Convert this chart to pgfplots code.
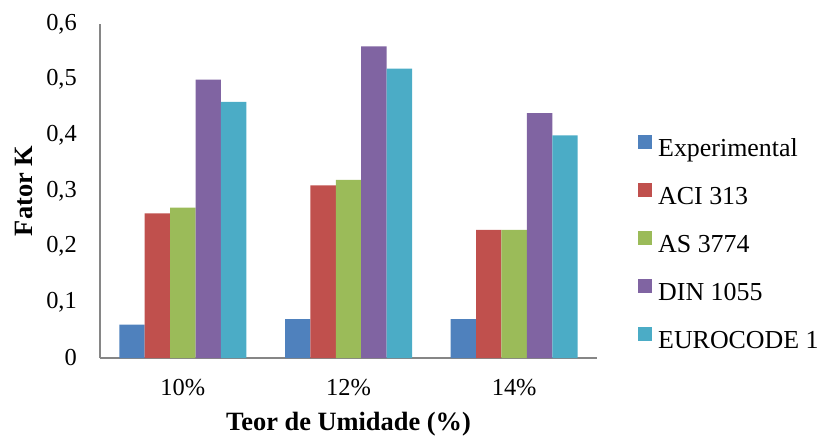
\documentclass[border=0pt]{standalone}
\usepackage{pgfplots}
\pgfplotsset{compat=1.18}
\usepackage{fontspec}
\setmainfont{Liberation Serif}
\definecolor{cBlue}{HTML}{4F81BD}
\definecolor{cRed}{HTML}{C0504D}
\definecolor{cGreen}{HTML}{9BBB59}
\definecolor{cPurple}{HTML}{8064A2}
\definecolor{cAqua}{HTML}{4BACC6}
\definecolor{axgray}{HTML}{868686}
\begin{document}
\begin{tikzpicture}
\begin{axis}[
  name=ax,
  scale only axis,
  width=497bp, height=334bp,
  ybar=0pt, bar width=25.4bp,
  xmin=-0.5, xmax=2.5,
  ymin=0, ymax=0.6,
  xtick={0,1,2},
  xticklabels={10\%,12\%,14\%},
  ytick={0,0.1,0.2,0.3,0.4,0.5,0.6},
  /pgf/number format/use comma,
  /pgf/number format/fixed,
  /pgf/number format/precision=1,
  /pgf/number format/assume math mode=true,
  major tick length=0pt,
  axis x line*=bottom, axis y line*=left,
  axis line style={axgray, line width=1.3bp},
  ticklabel style={font=\fontsize{24.5}{29}\selectfont, inner sep=0pt},
  yticklabel style={xshift=-23bp},
  xticklabel style={yshift=-21bp},
  xlabel={\textbf{Teor de Umidade (\%)}},
  ylabel={\textbf{Fator K}},
  label style={font=\fontsize{26.5}{31}\selectfont},
  xlabel style={at={(axis description cs:0.5,-0.2185)}, anchor=base},
  ylabel style={at={(axis description cs:-0.1368,0.5)}, anchor=base},
  legend cell align=left,
  legend style={at={(axis description cs:1.0825,0.6677)}, anchor=north west, draw=none, fill=none, inner sep=0pt,
    row sep=21bp, column sep=6bp,
    font=\fontsize{26}{31}\selectfont,
    nodes={inner sep=0pt, text height=18bp, text depth=6bp}},
  legend image code/.code={\fill[#1] (0bp,1bp) rectangle (14bp,15bp);},
]
\addplot[fill=cBlue, draw=none] coordinates {(0,0.06) (1,0.07) (2,0.07)};
\addplot[fill=cRed, draw=none] coordinates {(0,0.26) (1,0.31) (2,0.23)};
\addplot[fill=cGreen, draw=none] coordinates {(0,0.27) (1,0.32) (2,0.23)};
\addplot[fill=cPurple, draw=none] coordinates {(0,0.50) (1,0.56) (2,0.44)};
\addplot[fill=cAqua, draw=none] coordinates {(0,0.46) (1,0.52) (2,0.40)};
\legend{Experimental, ACI 313, AS 3774, DIN 1055, EUROCODE 1}
\end{axis}
\pgfresetboundingbox
\path[use as bounding box] (ax.south west) ++(-100bp,-81bp) rectangle ++(822bp,439bp);
\end{tikzpicture}
\end{document}
